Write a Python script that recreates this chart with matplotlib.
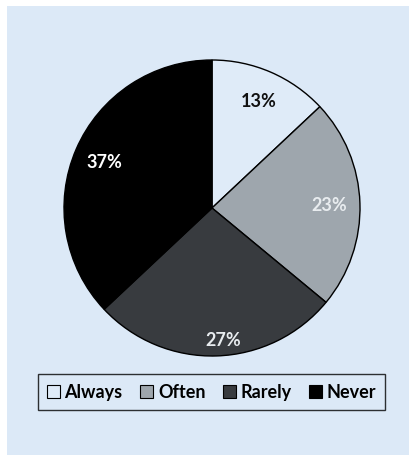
import matplotlib
matplotlib.use("Agg")
import matplotlib.pyplot as plt
from matplotlib.patches import Patch, Rectangle

categories = ["Always", "Often", "Rarely", "Never"]
values = [13, 23, 27, 37]
colors = ["#dfebf8", "#9ea6ad", "#383b3f", "#000000"]
label_colors = ["#111111", "#e8ecef", "#e8ecef", "#ffffff"]

plt.rcParams['font.family'] = ['Lato', 'DejaVu Sans']
bg = "#dce9f7"

W, H = 410, 456
fig = plt.figure(figsize=(W/100, H/100), dpi=100, facecolor="white")
fig.patches.append(Rectangle((7/W, 0), 1, 1 - 7/H, transform=fig.transFigure,
                             facecolor=bg, edgecolor="none", zorder=-10))

cx, cy, r = 212, 456 - 209, 148
ax = fig.add_axes([(cx - r)/W, (cy - r)/H, 2*r/W, 2*r/H], zorder=2)
ax.set_facecolor("none")
wedges, texts, autotexts = ax.pie(
    values, colors=colors, startangle=90, counterclock=False,
    autopct=lambda p: f"{p:.0f}%", pctdistance=0.79,
    wedgeprops=dict(edgecolor="black", linewidth=1.0),
    textprops=dict(fontsize=13, fontweight="bold"))
for t, c in zip(autotexts, label_colors):
    t.set_color(c)
x, y = autotexts[2].get_position()
autotexts[2].set_position((x * 0.89 / 0.79 + 0.05, y * 0.89 / 0.79))
ax.set_xlim(-1, 1)
ax.set_ylim(-1, 1)
ax.set_aspect("equal")
ax.axis("off")

handles = [Patch(facecolor=c, edgecolor="black", linewidth=0.8) for c in colors]
leg = fig.legend(handles, categories, loc="center", bbox_to_anchor=(211.5/W, 1 - 393/H),
                 ncol=4, frameon=True, fancybox=False, handlelength=0.75, handleheight=0.75,
                 handletextpad=0.25, columnspacing=0.95, borderpad=0.5, borderaxespad=0,
                 prop=dict(size=13, weight="bold"))
leg.get_frame().set_edgecolor("black")
leg.get_frame().set_facecolor(bg)
leg.get_frame().set_linewidth(1.0)

fig.savefig("out.png", dpi=100, facecolor="white")
